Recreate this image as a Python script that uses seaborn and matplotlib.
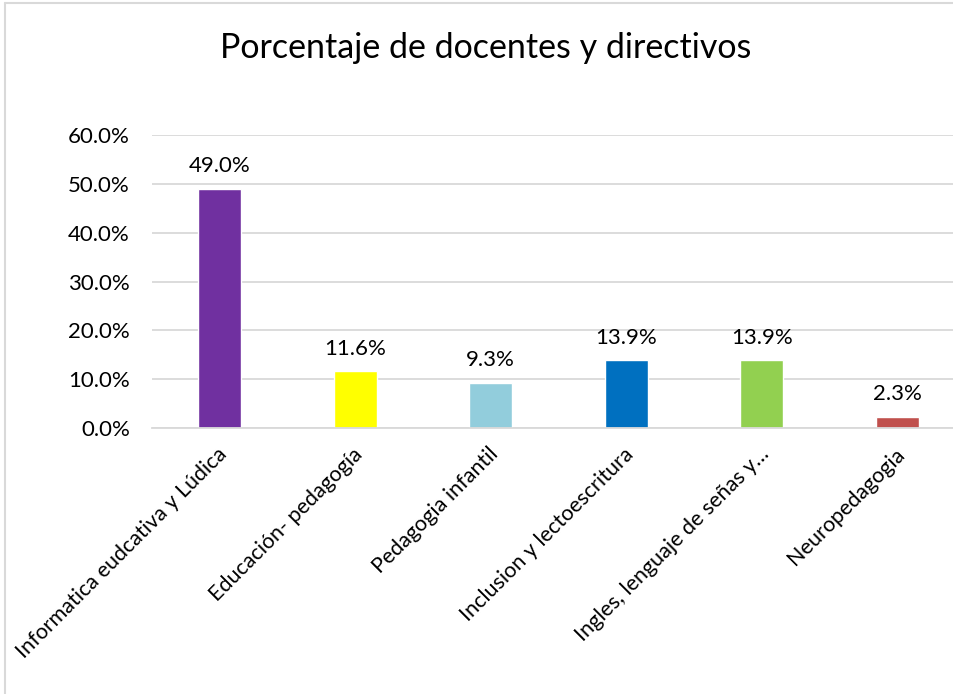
import matplotlib
matplotlib.use("Agg")
import matplotlib.pyplot as plt
from matplotlib.lines import Line2D
from matplotlib.ticker import FuncFormatter
from matplotlib.transforms import ScaledTranslation
import seaborn as sns
import pandas as pd

categories = [
    "Informatica eudcativa y Lúdica",
    "Educación- pedagogía",
    "Pedagogia infantil",
    "Inclusion y lectoescritura",
    "Ingles, lenguaje de señas y…",
    "Neuropedagogia",
]
values = [49.0, 11.6, 9.3, 13.9, 13.9, 2.3]
colors = ["#7030A0", "#FFFF00", "#92CDDC", "#0070C0", "#92D050", "#C0504D"]
title = "Porcentaje de docentes y directivos"

sns.set_theme(style="white")
plt.rcParams["font.family"] = ["Lato", "DejaVu Sans"]

W, H = 954, 694
fig = plt.figure(figsize=(W / 100, H / 100), dpi=100)

# plot area in pixel coordinates (extends slightly past the right edge)
left, right, top, bottom = 152, 965, 135, 428
ax = fig.add_axes([left / W, 1 - bottom / H, (right - left) / W, (bottom - top) / H])

df = pd.DataFrame({"cat": categories, "val": values})
sns.barplot(data=df, x="cat", y="val", hue="cat", palette=colors,
            width=0.32, legend=False, ax=ax, saturation=1)

ax.set_ylim(0, 60)
ax.set_yticks(range(0, 61, 10))
ax.yaxis.set_major_formatter(FuncFormatter(lambda v, p: f"{v:.1f}%"))
ax.grid(axis="y", color="#D9D9D9", linewidth=1.3)
ax.set_axisbelow(True)
for s in ["top", "right", "left"]:
    ax.spines[s].set_visible(False)
ax.spines["bottom"].set_color("#D9D9D9")
ax.spines["bottom"].set_linewidth(1.3)
ax.set_xlabel("")
ax.set_ylabel("")
ax.tick_params(axis="y", labelsize=16, colors="#000000", pad=16, length=0)
ax.tick_params(axis="x", labelsize=15.5, colors="#000000", length=0, pad=8)
ax.set_xticks(range(len(categories)))
ax.set_xticklabels(categories, rotation=45, ha="right", va="top",
                   rotation_mode="anchor")
shift = ScaledTranslation(-3 / 100, -5 / 100, fig.dpi_scale_trans)
for lbl in ax.get_xticklabels():
    lbl.set_transform(lbl.get_transform() + shift)

for i, v in enumerate(values):
    ax.annotate(f"{v:.1f}%", (i, v), xytext=(0, 9), textcoords="offset points",
                ha="center", va="bottom", fontsize=16, color="#000000")

fig.text(486 / W, 1 - 48 / H, title, ha="center", va="center", fontsize=24.5,
         color="#000000")

# chart frame: left and top edges
frame_kw = dict(transform=fig.transFigure, color="#D9D9D9", linewidth=1.5)
fig.add_artist(Line2D([5 / W, 5 / W], [0, 1 - 3 / H], **frame_kw))
fig.add_artist(Line2D([5 / W, 1], [1 - 3 / H, 1 - 3 / H], **frame_kw))

fig.savefig("out.png", dpi=100)
